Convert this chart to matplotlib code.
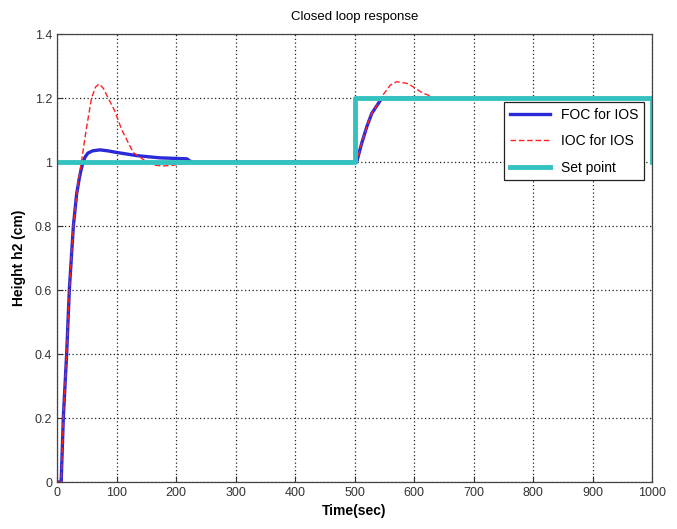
import matplotlib
matplotlib.use("Agg")
import matplotlib.pyplot as plt
from matplotlib import font_manager

# pick a narrow font like the MATLAB export, if there is one
names = set(f.name for f in font_manager.fontManager.ttflist)
font = "Liberation Sans Narrow" if "Liberation Sans Narrow" in names else "Liberation Sans"
plt.rcParams["font.family"] = [font, "DejaVu Sans"]

# data
foc_t = [0, 7, 10.6, 16.2, 20.7, 27.5, 33, 37.5, 41, 44, 47, 52, 60, 72, 85, 100, 134, 173, 218, 226,
         300, 400, 500, 503.6, 512, 520.6, 529, 540, 546, 560, 600, 630]
foc_y = [0, 0, 0.2, 0.4, 0.6, 0.8, 0.9, 0.95, 0.98, 1.0, 1.015, 1.028, 1.035, 1.038, 1.035, 1.03, 1.02, 1.013, 1.01, 1.0,
         1.0, 1.0, 1.0, 1.0, 1.058, 1.11, 1.152, 1.183, 1.2, 1.2, 1.2, 1.2]

ioc_t = [0, 7, 10.6, 16.2, 20.7, 27.5, 35, 41, 49, 58, 65, 71, 78, 86, 97, 109, 128, 151, 165,
         178, 195, 212, 235, 300, 500, 503.6, 512, 520.6, 529, 540, 548, 560, 571, 590, 615, 630]
ioc_y = [0, 0, 0.2, 0.4, 0.6, 0.8, 0.93, 1.0, 1.1, 1.2, 1.235, 1.244, 1.23, 1.2, 1.16, 1.1, 1.03, 1.0, 0.99,
         0.9875, 0.99, 0.995, 0.997, 1.0, 1.0, 1.0, 1.058, 1.11, 1.152, 1.183, 1.21, 1.24, 1.251, 1.245, 1.215, 1.205]

sp_t = [0, 500, 500, 1000, 1000]
sp_y = [1.0, 1.0, 1.2, 1.2, 1.0]

x_ticks = [0, 100, 200, 300, 400, 500, 600, 700, 800, 900, 1000]
y_ticks = [0, 0.2, 0.4, 0.6, 0.8, 1, 1.2, 1.4]
y_tick_labels = ["0", "0.2", "0.4", "0.6", "0.8", "1", "1.2", "1.4"]

fig = plt.figure(figsize=(6.77, 5.29), dpi=100)
ax = fig.add_axes([0.0842, 0.0888, 0.8789, 0.8469])

ax.plot(foc_t, foc_y, color="#2a2ad6", lw=2.4, label="FOC for IOS")
ax.plot(ioc_t, ioc_y, color="#ff2020", lw=1.0, ls=(0, (4, 2)), label="IOC for IOS")
ax.plot(sp_t, sp_y, color="#33c2bf", lw=3.5, label="Set point")

ax.set_xlim(0, 1000)
ax.set_ylim(0, 1.4)
ax.set_xticks(x_ticks)
ax.set_yticks(y_ticks)
ax.set_yticklabels(y_tick_labels)
ax.tick_params(direction="in", length=4, labelsize=9, colors="#333333")
ax.grid(True, color="#222222", ls=(0, (1, 2)), lw=0.9)
for s in ax.spines.values():
    s.set_color("#444444")
    s.set_linewidth(0.9)

ax.set_title("Closed loop response", fontsize=9.5, pad=10)
ax.set_xlabel("Time(sec)", fontsize=10, fontweight="bold", labelpad=4)
ax.set_ylabel("Height h2 (cm)", fontsize=10, fontweight="bold", labelpad=6)

leg = ax.legend(loc="upper right", bbox_to_anchor=(0.9866, 0.848), fontsize=10,
                handlelength=2.9, labelspacing=0.9, borderaxespad=0,
                fancybox=False, framealpha=1, edgecolor="#222222")
leg.get_frame().set_linewidth(0.9)

fig.savefig("out.png", dpi=100)
